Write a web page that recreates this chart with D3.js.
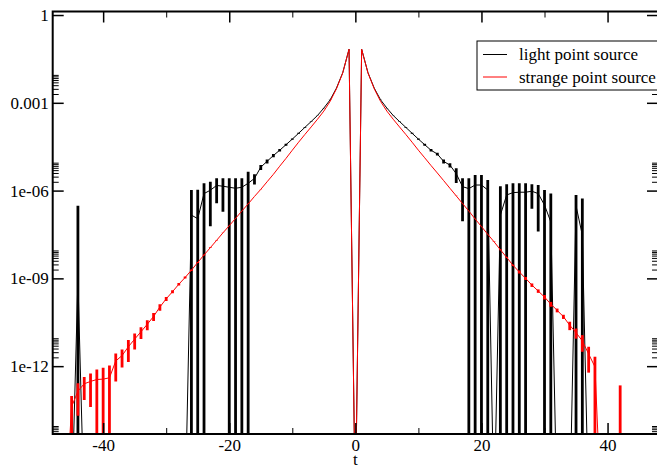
<!DOCTYPE html>
<html>
<head>
<meta charset="utf-8">
<script src="https://cdn.jsdelivr.net/npm/d3@7"></script>
<style>
body { margin: 0; background: #fff; }
</style>
</head>
<body>
<svg id="chart" width="657" height="467"></svg>
<script>
// time slices
var tVals = [-47,-46,-45,-44,-43,-42,-41,-40,-39,-38,-37,-36,-35,-34,-33,-32,-31,-30,-29,-28,
  -27,-26,-25,-24,-23,-22,-21,-20,-19,-18,-17,-16,-15,-14,-13,-12,-11,-10,-9,-8,-7,-6,-5,-4,-3,-2,-1,
  0,1,2,3,4,5,6,7,8,9,10,11,12,13,14,15,16,17,18,19,20,21,22,23,24,25,26,27,28,29,30,
  31,32,33,34,35,36,37,38,39,40,41,42,43,44,45,46,47];

// light point source: value and error
var lightVal = [-2e-13,-2e-13,-2e-13,9e-10,-2e-13,-2e-13,-2e-13,-2e-13,-2e-13,-2e-13,-2e-13,-2e-13,-2e-13,-2e-13,-2e-13,-2e-13,-2e-13,-2e-13,-2e-13,-2e-13,
  -2e-13,1.45e-7,1.1e-7,7.9e-7,1.03e-6,1.5e-6,1.41e-6,1.3e-6,1.2e-6,1.3e-6,1.78e-6,2.6e-6,6.3e-6,1.0e-5,1.58e-5,2.4e-5,3.7e-5,5.75e-5,9.1e-5,1.45e-4,2.3e-4,3.7e-4,6.6e-4,1.26e-3,3.16e-3,1.07e-2,6.76e-2,
  -1e-3,6.76e-2,1.07e-2,3.16e-3,1.26e-3,6.6e-4,3.7e-4,2.3e-4,1.45e-4,9.1e-5,5.75e-5,3.7e-5,2.4e-5,1.78e-5,1.0e-5,7.4e-6,3.8e-6,1.36e-6,1.17e-6,1.55e-6,1.55e-6,1.05e-6,-2e-13,1.45e-7,7.1e-7,8.5e-7,8.8e-7,8.8e-7,9.5e-7,7.9e-7,3.2e-7,
  8.5e-8,-2e-13,-2e-13,-2e-13,3e-7,3e-8,-2e-13,-2e-13,-2e-13,-2e-13,-2e-13,-2e-13,-2e-13,-2e-13,-2e-13,-2e-13,-2e-13];
var lightErr = [1e-14,1e-14,1e-14,3e-7,1e-14,1e-14,1e-14,1e-14,1e-14,1e-14,1e-14,1e-14,1e-14,1e-14,1e-14,1e-14,1e-14,1e-14,1e-14,1e-14,
  1e-14,9e-7,9.5e-7,1.0e-6,9.7e-7,1.13e-6,1.22e-6,1.35e-6,1.45e-6,1.35e-6,2.6e-6,1.0e-6,1.2e-6,1.5e-6,2e-6,2.5e-6,3e-6,3e-6,4e-6,4e-6,4e-6,5e-6,5e-6,1e-5,1e-5,1e-5,1e-4,
  1e-4,1e-4,1e-5,1e-5,1e-5,5e-6,5e-6,4e-6,4e-6,4e-6,3e-6,3e-6,2.5e-6,2e-6,1.5e-6,1.2e-6,2.0e-6,1.27e-6,1.46e-6,1.85e-6,1.85e-6,1.25e-6,1e-14,1.26e-6,9.5e-7,9.3e-7,9e-7,9e-7,7.1e-7,7.5e-7,7.3e-7,
  7.1e-7,1e-14,1e-14,1e-14,4.1e-7,5.1e-7,1e-14,1e-14,1e-14,1e-14,1e-14,1e-14,1e-14,1e-14,1e-14,1e-14,1e-14];

// strange point source: value and error
var strangeVal = [-1e-14,-1e-14,4.1e-14,1.4e-13,2.5e-13,3.0e-13,3.5e-13,3.6e-13,4.0e-13,1.5e-12,2.3e-12,4.6e-12,8.4e-12,1.5e-11,2.7e-11,5.0e-11,1.05e-10,2.0e-10,3.5e-10,6.3e-10,
  1.07e-9,1.9e-9,3.5e-9,6.3e-9,1.12e-8,2.0e-8,3.6e-8,6.3e-8,1.12e-7,2.0e-7,3.5e-7,6.3e-7,1.1e-6,2.0e-6,3.6e-6,6.8e-6,1.26e-5,2.4e-5,4.5e-5,8.3e-5,1.5e-4,2.75e-4,5.2e-4,1.12e-3,3.0e-3,1.05e-2,6.76e-2,
  -1e-3,6.76e-2,1.05e-2,3.0e-3,1.12e-3,5.2e-4,2.75e-4,1.5e-4,8.3e-5,4.5e-5,2.4e-5,1.32e-5,7.2e-6,4.0e-6,2.2e-6,1.2e-6,6.6e-7,3.6e-7,2.0e-7,1.07e-7,5.9e-8,3.2e-8,1.78e-8,9.5e-9,5.2e-9,2.8e-9,1.66e-9,1.0e-9,5.9e-10,3.7e-10,2.3e-10,
  1.32e-10,8.1e-11,4.9e-11,2.5e-11,1.4e-11,7.3e-12,2.6e-12,9.5e-13,-1e-14,-1e-14,-1e-14,-1e-13,-1e-14,-1e-14,-1e-14,-1e-14,-1e-14];
var strangeErr = [1e-15,1e-15,5.5e-14,1.2e-13,1.8e-13,2.6e-13,4.2e-13,5.3e-13,6.5e-13,1.2e-12,1.4e-12,3.2e-12,4.7e-12,6.5e-12,1.0e-11,1.5e-11,2.6e-11,3e-11,4e-11,6e-11,
  8e-11,1e-10,1.5e-10,2e-10,3e-10,4e-10,5e-10,6e-10,1e-9,1e-9,2e-9,2e-9,3e-9,5e-9,5e-9,1e-8,1e-8,2e-8,2e-8,5e-8,5e-8,1e-7,1e-7,1e-7,1e-7,1e-6,1e-6,
  1e-6,1e-6,1e-6,1e-7,1e-7,1e-7,1e-7,5e-8,5e-8,2e-8,2e-8,1e-8,1e-8,5e-9,5e-9,3e-9,2e-9,2e-9,1e-9,1e-9,6e-10,5e-10,4e-10,3e-10,2e-10,1.5e-10,2e-10,1.2e-10,8e-11,5e-11,4e-11,
  2.5e-11,1.2e-11,8e-12,8e-12,5.3e-12,4.2e-12,2e-12,1.15e-12,1e-15,1e-15,1e-15,3.2e-13,1e-15,1e-15,1e-15,1e-15,1e-15];

var yMajor = [1, 1e-3, 1e-6, 1e-9, 1e-12];
var yMajorLabels = ["1", "0.001", "1e-06", "1e-09", "1e-12"];
var xMajor = [-40, -20, 0, 20, 40];
var xMinor = [-30, -10, 10, 30];
var seriesNames = ["light point source", "strange point source"];
var seriesColors = ["#000000", "#ff0000"];

var FONT = '"Liberation Serif", "Times New Roman", serif';

var svg = d3.select('#chart');
var pLeft = 52.7, pRight = 658, pTop = 11.5, pBottom = 434;
var floorVal = 1e-17;   // where non-positive values are sent on the log axis

var x = d3.scaleLinear().domain([-48, 48]).range([pLeft, pRight]);
var y = d3.scaleLog().domain([4.8e-15, 1.32]).range([pBottom, pTop]);

// minor log ticks: 2..9 times each major decade
var yMinor = [];
[1e-15].concat(yMajor).forEach(function(m) {
    for (var k = 2; k <= 9; k++) {
        var v = m * k;
        if (v > y.domain()[0] && v < y.domain()[1]) yMinor.push(v);
    }
});

svg.append('clipPath').attr('id', 'clip')
    .append('rect')
    .attr('x', pLeft).attr('y', pTop)
    .attr('width', pRight - pLeft).attr('height', pBottom - pTop);

var plot = svg.append('g').attr('clip-path', 'url(#clip)');

function yPos(v) { return y(v > 0 ? v : floorVal); }

function makeSeries(vals, errs) {
    return tVals.map(function(t, i) { return { t: t, v: vals[i], e: errs[i] }; });
}

var series = [makeSeries(lightVal, lightErr), makeSeries(strangeVal, strangeErr)];

var line = d3.line()
    .x(function(d) { return x(d.t); })
    .y(function(d) { return yPos(d.v); });

series.forEach(function(data, si) {
    var g = plot.append('g');
    g.selectAll('line.err')
        .data(data.filter(function(d) { return d.v + d.e > 0; }))
        .enter().append('line')
        .attr('x1', function(d) { return x(d.t); })
        .attr('x2', function(d) { return x(d.t); })
        .attr('y1', function(d) { return yPos(d.v - d.e); })
        .attr('y2', function(d) { return yPos(d.v + d.e); })
        .attr('stroke', seriesColors[si])
        .attr('stroke-width', 2.8);
    g.append('path')
        .datum(data)
        .attr('d', line)
        .attr('fill', 'none')
        .attr('stroke', seriesColors[si])
        .attr('stroke-width', 1);
});

// axes, ticks pointing inward on all four sides
function styleAxis(g, w) {
    g.attr('font-family', FONT).attr('font-size', 17);
    g.select('.domain').remove();
    g.selectAll('.tick line').attr('stroke', '#000').attr('stroke-width', w);
    g.selectAll('.tick text').attr('fill', '#000');
}

var fmtY = function(d) { return yMajorLabels[yMajor.indexOf(d)]; };

svg.append('g').attr('transform', 'translate(' + pLeft + ',0)')
    .call(d3.axisLeft(y).tickValues(yMajor).tickFormat(fmtY).tickSize(-11).tickPadding(4))
    .call(styleAxis, 1.5);
svg.append('g').attr('transform', 'translate(' + pLeft + ',0)')
    .call(d3.axisLeft(y).tickValues(yMinor).tickFormat('').tickSize(-6))
    .call(styleAxis, 1);
svg.append('g').attr('transform', 'translate(' + pRight + ',0)')
    .call(d3.axisRight(y).tickValues(yMajor).tickFormat('').tickSize(-11))
    .call(styleAxis, 1.5);
svg.append('g').attr('transform', 'translate(' + pRight + ',0)')
    .call(d3.axisRight(y).tickValues(yMinor).tickFormat('').tickSize(-6))
    .call(styleAxis, 1);

svg.append('g').attr('transform', 'translate(0,' + pBottom + ')')
    .call(d3.axisBottom(x).tickValues(xMajor).tickFormat(d3.format('d')).tickSize(-11).tickPadding(5))
    .call(styleAxis, 1.5);
svg.append('g').attr('transform', 'translate(0,' + pBottom + ')')
    .call(d3.axisBottom(x).tickValues(xMinor).tickFormat('').tickSize(-6))
    .call(styleAxis, 1);
svg.append('g').attr('transform', 'translate(0,' + pTop + ')')
    .call(d3.axisTop(x).tickValues(xMajor).tickFormat('').tickSize(-11))
    .call(styleAxis, 1.5);
svg.append('g').attr('transform', 'translate(0,' + pTop + ')')
    .call(d3.axisTop(x).tickValues(xMinor).tickFormat('').tickSize(-6))
    .call(styleAxis, 1);

// plain hyphen as in the original
svg.selectAll('.tick text').text(function() { return d3.select(this).text().replace('\u2212', '-'); });

svg.append('rect')
    .attr('x', pLeft).attr('y', pTop)
    .attr('width', pRight - pLeft).attr('height', pBottom - pTop)
    .attr('fill', 'none').attr('stroke', '#000').attr('stroke-width', 2);

svg.append('text')
    .attr('x', x(0)).attr('y', 465)
    .attr('text-anchor', 'middle')
    .attr('font-family', FONT)
    .attr('font-size', 17)
    .text('t');

// legend
var leg = svg.append('g').attr('font-family', FONT).attr('font-size', 17);
leg.append('rect')
    .attr('x', 477).attr('y', 41).attr('width', 200).attr('height', 49)
    .attr('fill', '#fff').attr('stroke', '#000').attr('stroke-width', 1);
seriesNames.forEach(function(name, i) {
    var ly = 54.5 + i * 22.5;
    leg.append('line')
        .attr('x1', 483).attr('x2', 507).attr('y1', ly).attr('y2', ly)
        .attr('stroke', seriesColors[i]).attr('stroke-width', 1);
    leg.append('text')
        .attr('x', 519).attr('y', ly + 5.5)
        .text(name);
});
</script>
</body>
</html>
